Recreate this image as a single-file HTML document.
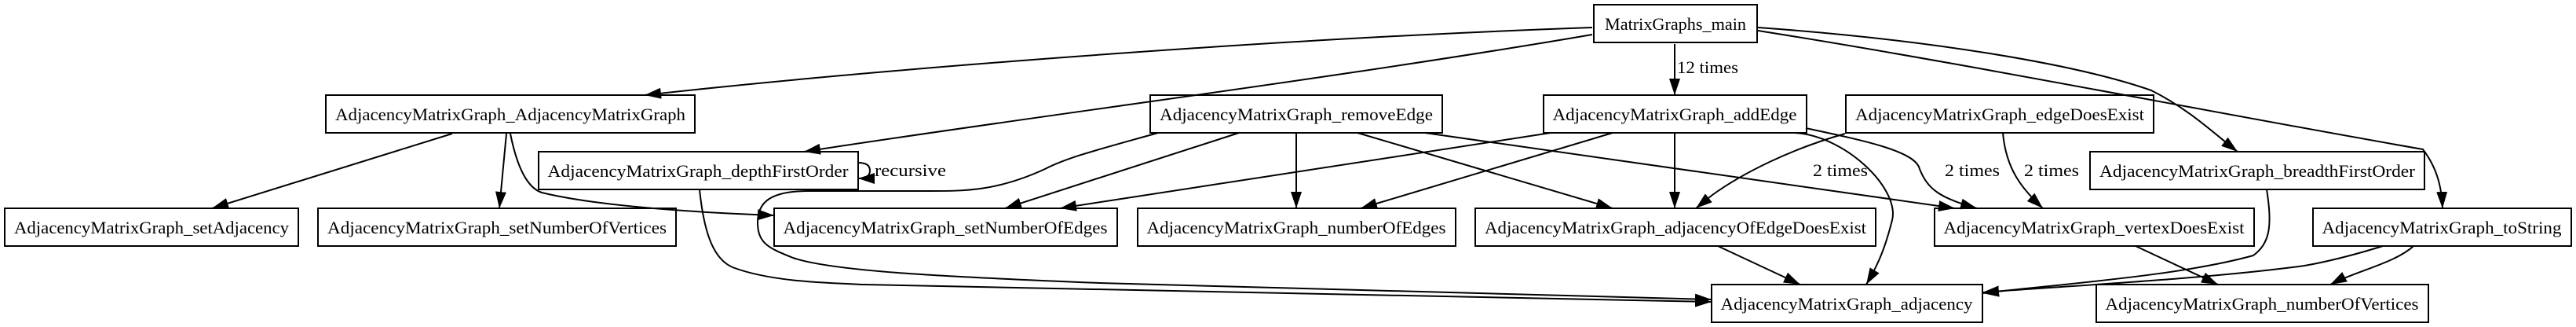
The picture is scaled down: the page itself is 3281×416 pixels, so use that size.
<!DOCTYPE html>
<html><head><meta charset="utf-8"><style>
html,body{margin:0;padding:0;background:#fff;}
svg{display:block;}
text{font-family:"Liberation Serif",serif;font-size:22px;fill:#000;}
</style></head><body>
<svg width="3281" height="416" viewBox="0 0 3281 416" xmlns="http://www.w3.org/2000/svg">
<defs>
<marker id="a" markerUnits="userSpaceOnUse" markerWidth="22" markerHeight="14" refX="21" refY="7" orient="auto">
<path d="M0,0 L21,7 L0,14 Z" fill="#000"/>
</marker>
</defs>
<g fill="#fff" stroke="#000" stroke-width="2">
<rect x="2030" y="6" width="208" height="48"/>
<rect x="415" y="121" width="470" height="48"/>
<rect x="1465" y="121" width="372" height="48"/>
<rect x="1966" y="121" width="335" height="48"/>
<rect x="2351" y="121" width="392" height="48"/>
<rect x="686" y="193" width="407" height="48"/>
<rect x="2662" y="193" width="426" height="48"/>
<rect x="6" y="265" width="374" height="48"/>
<rect x="405" y="265" width="456" height="48"/>
<rect x="986" y="265" width="437" height="48"/>
<rect x="1449" y="265" width="405" height="48"/>
<rect x="1879" y="265" width="510" height="48"/>
<rect x="2464" y="265" width="407" height="48"/>
<rect x="2946" y="265" width="329" height="48"/>
<rect x="2180" y="362" width="345" height="48"/>
<rect x="2670" y="362" width="423" height="48"/>
</g>
<g fill="none" stroke="#000" stroke-width="2" marker-end="url(#a)">
<path d="M2028,35 C1600,50 1100,90 821,121"/>
<path d="M2028,44 C1700,100 1300,150 1024,193"/>
<path d="M2133,56 L2133,121"/>
<path d="M2239,35 C2450,50 2640,80 2740,115 C2790,140 2820,170 2850,193"/>
<path d="M2239,39 C2500,80 2800,140 3086,190 C3105,215 3110,240 3111,265"/>
<path d="M576,170 L270,265"/>
<path d="M645,170 L636,265"/>
<path d="M650,170 C660,220 675,240 690,245 C760,262 880,270 986,274"/>
<path d="M1093,207 C1105,207 1108,212 1108,217 C1108,222 1105,227 1093,227"/>
<path d="M891,241 C897,300 910,330 933,340 C980,358 1050,360 1100,362 C1500,372 1900,380 2180,384"/>
<path d="M1475,169 C1400,190 1360,200 1331,215 C1270,243 1230,243 1184,243 L1030,243 C980,243 965,258 965,283 C965,310 980,316 1010,328 C1060,345 1200,352 1400,360 C1800,372 2000,378 2180,381"/>
<path d="M1578,169 L1280,265"/>
<path d="M1651,169 L1651,265"/>
<path d="M1729,169 L2054,265"/>
<path d="M1815,169 L2490,265"/>
<path d="M1975,169 L1350,265"/>
<path d="M2054,169 L1733,265"/>
<path d="M2133,169 L2133,265"/>
<path d="M2285,169 C2350,172 2420,240 2410,280 C2400,320 2390,340 2377,362"/>
<path d="M2300,163 C2380,180 2440,193 2445,215 C2455,240 2470,252 2518,265"/>
<path d="M2350,170 C2280,190 2220,220 2181,248 L2160,265"/>
<path d="M2551,169 C2555,215 2575,240 2602,265"/>
<path d="M2188,313 L2293,362"/>
<path d="M2720,313 L2825,362"/>
<path d="M2887,241 C2895,290 2890,310 2870,325 C2780,350 2640,360 2525,373"/>
<path d="M3035,313 C2980,330 2940,338 2920,340 C2800,355 2660,362 2525,372"/>
<path d="M3074,313 C3050,335 3000,345 2968,362"/>
</g>
<g text-anchor="middle" lengthAdjust="spacingAndGlyphs">
<text x="2134" y="38" textLength="180" lengthAdjust="spacingAndGlyphs">MatrixGraphs_main</text>
<text x="650" y="153" textLength="446" lengthAdjust="spacingAndGlyphs">AdjacencyMatrixGraph_AdjacencyMatrixGraph</text>
<text x="1651" y="153" textLength="348" lengthAdjust="spacingAndGlyphs">AdjacencyMatrixGraph_removeEdge</text>
<text x="2133" y="153" textLength="311" lengthAdjust="spacingAndGlyphs">AdjacencyMatrixGraph_addEdge</text>
<text x="2547" y="153" textLength="368" lengthAdjust="spacingAndGlyphs">AdjacencyMatrixGraph_edgeDoesExist</text>
<text x="889" y="225" textLength="383" lengthAdjust="spacingAndGlyphs">AdjacencyMatrixGraph_depthFirstOrder</text>
<text x="2875" y="225" textLength="402" lengthAdjust="spacingAndGlyphs">AdjacencyMatrixGraph_breadthFirstOrder</text>
<text x="193" y="297" textLength="350" lengthAdjust="spacingAndGlyphs">AdjacencyMatrixGraph_setAdjacency</text>
<text x="633" y="297" textLength="432" lengthAdjust="spacingAndGlyphs">AdjacencyMatrixGraph_setNumberOfVertices</text>
<text x="1204" y="297" textLength="413" lengthAdjust="spacingAndGlyphs">AdjacencyMatrixGraph_setNumberOfEdges</text>
<text x="1651" y="297" textLength="381" lengthAdjust="spacingAndGlyphs">AdjacencyMatrixGraph_numberOfEdges</text>
<text x="2134" y="297" textLength="486" lengthAdjust="spacingAndGlyphs">AdjacencyMatrixGraph_adjacencyOfEdgeDoesExist</text>
<text x="2667" y="297" textLength="383" lengthAdjust="spacingAndGlyphs">AdjacencyMatrixGraph_vertexDoesExist</text>
<text x="3110" y="297" textLength="305" lengthAdjust="spacingAndGlyphs">AdjacencyMatrixGraph_toString</text>
<text x="2352" y="394" textLength="321" lengthAdjust="spacingAndGlyphs">AdjacencyMatrixGraph_adjacency</text>
<text x="2881" y="394" textLength="399" lengthAdjust="spacingAndGlyphs">AdjacencyMatrixGraph_numberOfVertices</text>
</g>
<text x="2136" y="93" textLength="78" lengthAdjust="spacingAndGlyphs">12 times</text>
<text x="1114" y="224" textLength="91" lengthAdjust="spacingAndGlyphs">recursive</text>
<text x="2309" y="224" textLength="70" lengthAdjust="spacingAndGlyphs">2 times</text>
<text x="2477" y="224" textLength="70" lengthAdjust="spacingAndGlyphs">2 times</text>
<text x="2578" y="224" textLength="70" lengthAdjust="spacingAndGlyphs">2 times</text>
</svg>
</body></html>
